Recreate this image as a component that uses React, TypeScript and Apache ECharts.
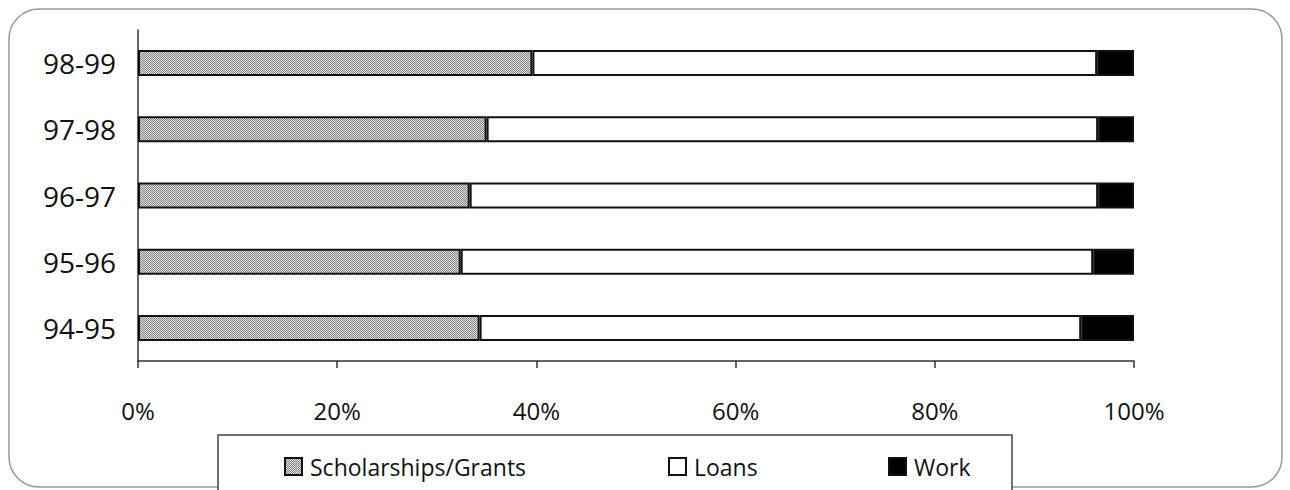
import React, { useEffect, useRef } from "react";
import * as echarts from "echarts";

const categories = ["94-95", "95-96", "96-97", "97-98", "98-99"];
const scholarships = [34.3, 32.4, 33.3, 35.0, 39.6];
const loans = [60.4, 63.5, 63.1, 61.4, 56.7];
const work = [5.3, 4.1, 3.6, 3.6, 3.7];
const seriesNames = ["Scholarships/Grants", "Loans", "Work"];

function makePattern(): any {
  const c = document.createElement("canvas");
  c.width = 2;
  c.height = 2;
  const ctx = c.getContext("2d")!;
  ctx.fillStyle = "#e4e4e4";
  ctx.fillRect(0, 0, 2, 2);
  ctx.fillStyle = "#808080";
  ctx.fillRect(0, 0, 1, 1);
  ctx.fillRect(1, 1, 1, 1);
  return { image: c, repeat: "repeat" };
}

export default function App() {
  const ref = useRef<HTMLDivElement>(null);
  useEffect(() => {
    document.body.style.margin = "0";
    const chart = echarts.init(ref.current!, null, { renderer: "svg" });
    const pattern = makePattern();
    const labelFont = "Open Sans";
    const legendBase = {
      orient: "horizontal",
      top: 450,
      itemWidth: 17,
      itemHeight: 17,
      icon: "rect",
      itemGap: 8,
      textStyle: { fontFamily: labelFont, fontSize: 23, color: "#111", padding: [0, 0, 0, 3] },
      z: 10,
    };
    chart.setOption({
      animation: false,
      backgroundColor: "#ffffff",
      grid: { left: 138, right: 156, top: 30, bottom: 129, containLabel: false },
      xAxis: {
        type: "value",
        min: 0,
        max: 100,
        interval: 20,
        axisLine: { show: true, lineStyle: { color: "#333", width: 1.5 } },
        axisTick: { show: true, length: 7, inside: false, lineStyle: { color: "#333", width: 1.5 } },
        splitLine: { show: false },
        axisLabel: {
          formatter: "{value}%",
          margin: 37,
          fontFamily: labelFont,
          fontSize: 24,
          color: "#111",
        },
      },
      yAxis: {
        type: "category",
        data: categories,
        axisLine: { show: true, lineStyle: { color: "#333", width: 1.5 } },
        axisTick: { show: false },
        axisLabel: { fontFamily: labelFont, fontSize: 28, color: "#111", margin: 22 },
      },
      legend: [
        { ...legendBase, left: 279, data: [seriesNames[0]] },
        { ...legendBase, left: 663, data: [seriesNames[1]] },
        { ...legendBase, left: 883, data: [seriesNames[2]] },
      ],
      graphic: [
        {
          type: "rect",
          z: -10,
          shape: { x: 9, y: 9, width: 1273, height: 478, r: 30 },
          style: { fill: "#ffffff", stroke: "#999", lineWidth: 1.5 },
        },
        {
          type: "rect",
          z: 1,
          shape: { x: 218, y: 435, width: 794, height: 80 },
          style: { fill: "#ffffff", stroke: "#444", lineWidth: 1.5 },
        },
      ],
      series: [
        {
          name: seriesNames[0],
          type: "bar",
          stack: "total",
          data: scholarships,
          barWidth: 26,
          itemStyle: { color: pattern, borderColor: "#111", borderWidth: 2 },
        },
        {
          name: seriesNames[1],
          type: "bar",
          stack: "total",
          data: loans,
          barWidth: 26,
          itemStyle: { color: "#ffffff", borderColor: "#111", borderWidth: 2 },
        },
        {
          name: seriesNames[2],
          type: "bar",
          stack: "total",
          data: work,
          barWidth: 26,
          itemStyle: { color: "#000000", borderColor: "#111", borderWidth: 2 },
        },
      ],
    });
    return () => chart.dispose();
  }, []);
  return <div ref={ref} style={{ width: 1290, height: 490 }} />;
}
